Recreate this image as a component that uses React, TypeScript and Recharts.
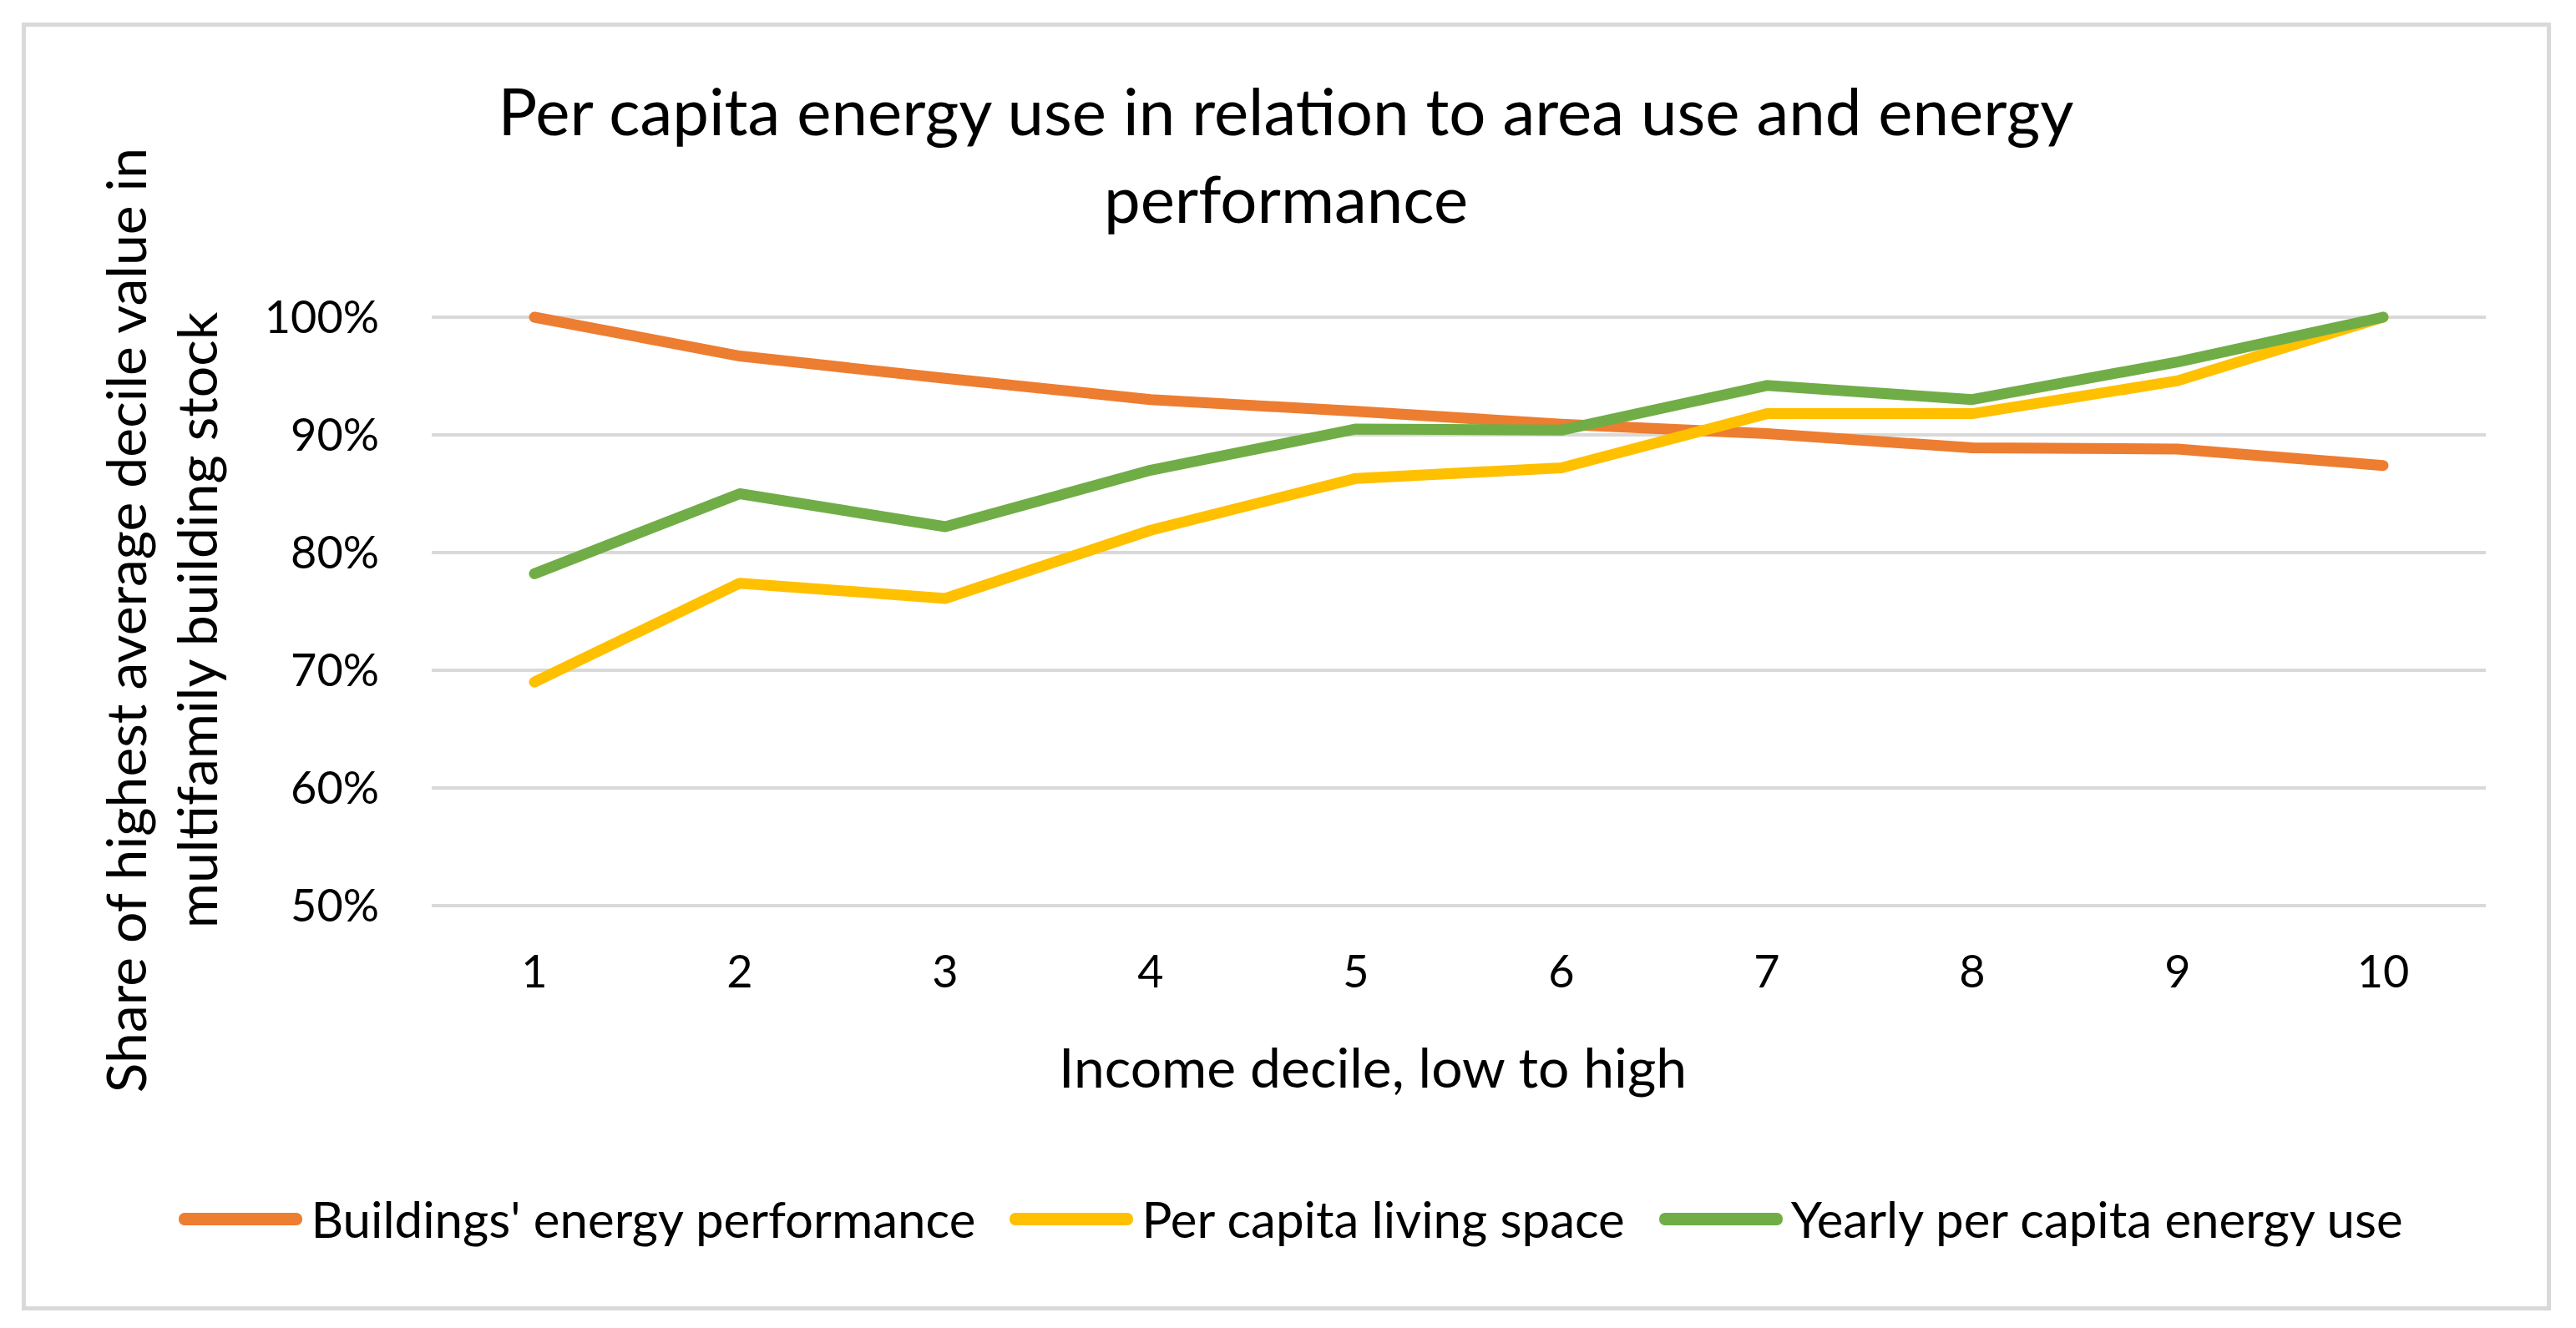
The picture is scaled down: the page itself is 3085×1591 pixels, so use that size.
import React from 'react';
import { LineChart, Line, XAxis, YAxis, CartesianGrid } from 'recharts';

const deciles = ['1', '2', '3', '4', '5', '6', '7', '8', '9', '10'];
const energyPerformance = [100, 96.7, 94.8, 93.0, 92.0, 90.9, 90.1, 88.9, 88.8, 87.4];
const livingSpace = [69.0, 77.4, 76.1, 81.9, 86.3, 87.2, 91.8, 91.8, 94.6, 100];
const energyUse = [78.2, 85.0, 82.2, 87.0, 90.5, 90.4, 94.2, 93.0, 96.2, 100];
const yTicks = [50, 60, 70, 80, 90, 100];

const seriesList = [
    { key: 'perf', name: "Buildings' energy performance", color: '#ED7D31', values: energyPerformance },
    { key: 'space', name: 'Per capita living space', color: '#FFC000', values: livingSpace },
    { key: 'use', name: 'Yearly per capita energy use', color: '#70AD47', values: energyUse },
];

const data = deciles.map((d, i) => {
    const row: Record<string, string | number> = { decile: d };
    seriesList.forEach(s => { row[s.key] = s.values[i]; });
    return row;
});

const FONT = 'Lato, "Open Sans", sans-serif';

const App: React.FC = () => {
    return (
        <div style={{ position: 'absolute', left: 0, top: 0, width: 3085, height: 1591, background: '#fff', fontFamily: FONT, color: '#000' }}>
            <div style={{ position: 'absolute', left: 26, top: 27, width: 3019, height: 1533, border: '5px solid #D9D9D9' }} />

            <div style={{ position: 'absolute', left: 0, width: 3080, top: 80, textAlign: 'center', fontSize: 78, lineHeight: '105px' }}>
                Per capita energy use in relation to area use and energy<br />performance
            </div>

            <div style={{
                position: 'absolute', left: 192, top: 743, width: 1300, marginLeft: -650, marginTop: -85,
                height: 170, transform: 'rotate(-90deg)', textAlign: 'center', fontSize: 66, lineHeight: '85px',
                whiteSpace: 'nowrap',
            }}>
                Share of highest average decile value in<br />multifamily building stock
            </div>

            <div style={{ position: 'absolute', left: 1644, top: 1238, transform: 'translateX(-50%)', whiteSpace: 'nowrap', fontSize: 66, lineHeight: '80px' }}>
                Income decile, low to high
            </div>

            <div style={{ position: 'absolute', left: 0, top: 0 }}>
                <LineChart width={3085} height={1591} data={data} margin={{ top: 380, right: 108, bottom: 0, left: 0 }}>
                    <CartesianGrid horizontal vertical={false} stroke="#D9D9D9" strokeWidth={4} />
                    <XAxis
                        dataKey="decile"
                        height={506}
                        padding={{ left: 123, right: 123 }}
                        axisLine={false}
                        tickLine={false}
                        tickSize={0}
                        tickMargin={60}
                        tick={{ fontSize: 54, fill: '#000', fontFamily: FONT }}
                    />
                    <YAxis
                        domain={[50, 100]}
                        ticks={yTicks}
                        width={517}
                        axisLine={false}
                        tickLine={false}
                        tickSize={0}
                        tickMargin={63}
                        tickFormatter={(v: number) => `${v}%`}
                        tick={{ fontSize: 54, fill: '#000', fontFamily: FONT }}
                    />
                    {seriesList.map(s => (
                        <Line
                            key={s.key}
                            type="linear"
                            dataKey={s.key}
                            name={s.name}
                            stroke={s.color}
                            strokeWidth={13}
                            strokeLinecap="round"
                            strokeLinejoin="round"
                            dot={false}
                            activeDot={false}
                            isAnimationActive={false}
                        />
                    ))}
                </LineChart>
            </div>

            <div style={{ position: 'absolute', left: 0, width: 3092, top: 1420, height: 80, display: 'flex', justifyContent: 'center', alignItems: 'center', fontSize: 60 }}>
                {seriesList.map((s, i) => (
                    <div key={s.key} style={{ display: 'flex', alignItems: 'center', marginRight: i < seriesList.length - 1 ? 41 : 0 }}>
                        <div style={{ width: 148, height: 15, borderRadius: 7, background: s.color, marginRight: 10 }} />
                        <span style={{ whiteSpace: 'nowrap' }}>{s.name}</span>
                    </div>
                ))}
            </div>
        </div>
    );
};

export default App;
